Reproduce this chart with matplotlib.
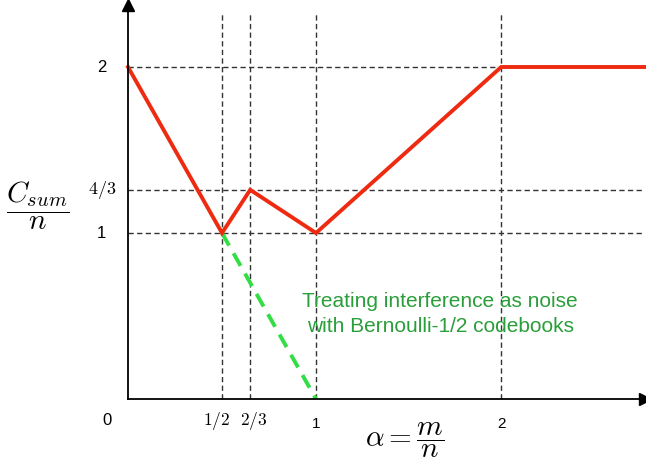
import matplotlib.pyplot as plt

# data
alpha = [0, 0.5, 0.65, 1, 1.985, 2.75]
csum = [2, 1, 1.26, 1, 2, 2]          # 4/3 sits a bit low in the original drawing
tin_alpha = [0.5, 1]
tin_csum = [1, 0]

x_ticks = [0.5, 0.65, 1, 1.985]
x_labels = ["$1/2$", "$2/3$", "1", "2"]
x_shift = [-5, 3, 0, 0]   # px, keeps 1/2 and 2/3 apart
y_ticks = [2, 1.26, 1]
y_labels = ["2", "$4/3$", "1"]

plt.rcParams['mathtext.fontset'] = 'cm'
plt.rcParams['font.family'] = 'Liberation Sans'

fig = plt.figure(figsize=(6.46, 4.66), dpi=100)
W, H = 646, 466
left, right, top, bottom = 128, 645, 5, 399
ax = fig.add_axes([left / W, 1 - bottom / H, (right - left) / W, (bottom - top) / H])
ax.set_xlim(0, (right - left) / 188)
ax.set_ylim(0, (bottom - top) / 166)

for s in ["top", "right"]:
    ax.spines[s].set_visible(False)
ax.spines["left"].set_linewidth(1.3)
ax.spines["bottom"].set_linewidth(1.3)
ax.set_xticks([])
ax.set_yticks([])
# arrow heads
ax.plot(1, 0, ">k", ms=8, transform=ax.get_yaxis_transform(), clip_on=False)
ax.plot(0, 1, "^k", ms=8, transform=ax.get_xaxis_transform(), clip_on=False)

# dashed guides
dash = dict(color="#333333", lw=1, ls=(0, (3.8, 2.4)))
for xv in x_ticks:
    ax.axvline(xv, ymin=0, ymax=(bottom - 14) / (bottom - top), **dash)
for yv in y_ticks:
    ax.axhline(yv, **dash)

# curves
ax.plot(tin_alpha, tin_csum, color="#33dd44", lw=2.8, ls=(0, (3.7, 2.3)), clip_on=False)
ax.plot(alpha, csum, color="#ee2a10", lw=2.8, clip_on=False, solid_joinstyle="miter")

# tick labels
ax.text(-0.11, -0.13, "0", fontsize=12, ha="center", va="center")
for xv, lab, sh in zip(x_ticks, x_labels, x_shift):
    if lab.startswith("$"):
        ax.annotate(lab, (xv, -0.13), xytext=(sh * 0.72, 0), textcoords="offset points",
                    fontsize=12.5, ha="center", va="center", annotation_clip=False)
    else:
        ax.text(xv, -0.15, lab, fontsize=11, ha="center", va="center")
for yv, lab in zip(y_ticks, y_labels):
    ax.text(-0.14, yv, lab, fontsize=13 if lab.startswith("$") else 12, ha="center", va="center")

# axis labels
fig.text(38 / W, 1 - 206 / H, r"$\dfrac{C_{sum}}{n}$", fontsize=21, ha="center", va="center")
fig.text(405 / W, 1 - 440 / H, r"$\alpha = \dfrac{m}{n}$", fontsize=21, ha="center", va="center")

ax.text(1.66, 0.51, "Treating interference as noise\nwith Bernoulli-1/2 codebooks",
        color="#2a9e3a", fontsize=15, ha="center", va="center", linespacing=1.4)

fig.savefig("out.png", dpi=100)
